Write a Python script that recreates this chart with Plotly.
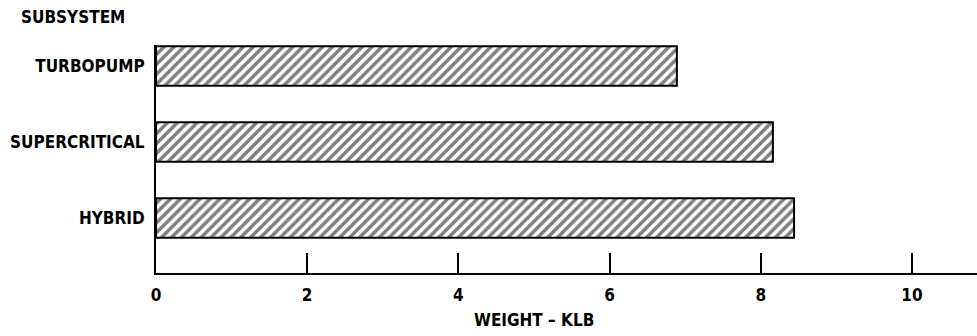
import plotly.graph_objects as go

categories = ["HYBRID", "SUPERCRITICAL", "TURBOPUMP"]
weights = [8.44, 8.16, 6.89]
positions = [0, 1, 2]
x_ticks = [0, 2, 4, 6, 8, 10]

FONT = dict(family="DejaVu Sans Condensed", size=17, color="black", weight="bold")

fig = go.Figure()
fig.add_trace(go.Bar(
    x=weights, y=positions, orientation="h", width=0.52,
    marker=dict(color="white", line=dict(color="black", width=2),
                pattern=dict(shape="/", fgcolor="black", bgcolor="white", size=7, solidity=0.5)),
    showlegend=False,
))

fig.update_layout(
    width=977, height=336,
    margin=dict(l=156, r=0, t=45, b=63),
    paper_bgcolor="white", plot_bgcolor="white",
    font=FONT,
    xaxis=dict(range=[0, 10.86], tickvals=x_ticks, ticks="inside", ticklen=20, tickwidth=2,
               tickcolor="black", showline=True, linecolor="black", linewidth=2,
               showgrid=False, zeroline=False, tickfont=FONT, ticklabelstandoff=6),
    yaxis=dict(range=[-0.724, 2.276], tickvals=positions, ticktext=categories,
               showline=True, linecolor="black", linewidth=2, showgrid=False,
               zeroline=False, ticks="", ticklabelstandoff=6, tickfont=FONT),
    annotations=[
        dict(text="SUBSYSTEM", xref="paper", yref="paper", x=0, y=1, xanchor="right",
             yanchor="middle", xshift=-29, yshift=28, showarrow=False, font=FONT),
        dict(text="WEIGHT – KLB", xref="x", yref="paper", x=5, y=0, xanchor="center",
             yanchor="middle", yshift=-47, showarrow=False, font=FONT),
    ],
)

fig.write_html("out.html")
